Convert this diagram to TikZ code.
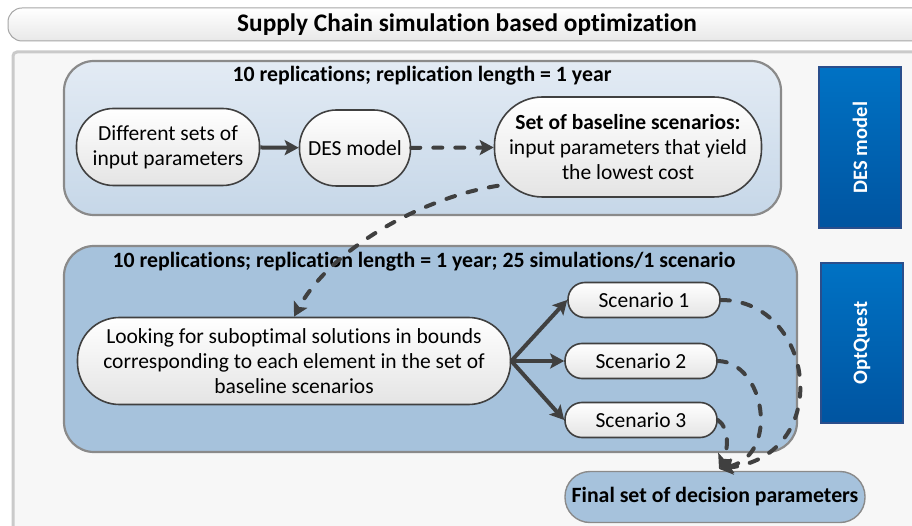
\documentclass[tikz,border=0pt]{standalone}
\usepackage{fontspec}
\setmainfont{Carlito}[Ligatures=NoCommon]
\usetikzlibrary{arrows.meta,calc}

\definecolor{panelbg}{HTML}{F7F7F7}
\definecolor{panelrim}{HTML}{CACACA}
\definecolor{grouprim}{HTML}{8A8A8A}
\definecolor{grouptop}{HTML}{E3EBF4}
\definecolor{groupbot}{HTML}{C6D7E8}
\definecolor{groupblue}{HTML}{A6C2DC}
\definecolor{arrowgray}{HTML}{404040}
\definecolor{sidetop}{HTML}{0072C4}
\definecolor{sidebot}{HTML}{0054A0}
\definecolor{siderim}{HTML}{2A4E8C}
\definecolor{pillbot}{HTML}{E4E4E4}

\tikzset{
  txt/.style={font=\fontsize{21.5}{25}\selectfont},
  pill/.style={rectangle, draw=arrowgray, line width=1.6pt,
    top color=white, bottom color=pillbot, align=center, inner xsep=0pt, inner ysep=1pt, txt},
  groupbox/.style={draw=grouprim, line width=2.2pt, rounded corners=30pt},
  grouptitle/.style={font=\fontsize{21.8}{25}\selectfont\bfseries},
  sidebox/.style={draw=siderim, line width=1.8pt, top color=sidetop, bottom color=sidebot,
    minimum width=82pt},
  sidetext/.style={rotate=90, text=white, font=\fontsize{20.5}{24}\selectfont\bfseries},
  flow/.style={draw=arrowgray, line width=4pt,
    -{Stealth[length=14pt,width=15pt,inset=3pt]}},
  dflow/.style={flow, line cap=round, dash pattern=on 9pt off 13pt},
}

\begin{document}
\begin{tikzpicture}[x=1pt,y=-1pt]
\useasboundingbox (0,0) rectangle (912,526);
\clip (0,0) rectangle (912,526);
\fill[white] (0,0) rectangle (912,526);

% heading bar
\draw[draw=gray!70, line width=1pt, top color=white, bottom color=gray!18, rounded corners=14pt]
  (8,8) rectangle (930,41);
\node[font=\fontsize{25.3}{28}\selectfont\bfseries] (head) at (467,25) {Supply Chain simulation based optimization};

% working panel
\draw[fill=panelbg, draw=panelrim, line width=3pt, rounded corners=4pt] (13,52) rectangle (940,545);

% upper group: DES model
\draw[groupbox, top color=grouptop, bottom color=groupbot] (64,61) rectangle (781,215);
\node[grouptitle] (t1) at (422,76) {10 replications; replication length = 1 year};

\node[pill, rounded corners=37pt, minimum width=183pt, minimum height=77pt] (inp) at (168,147)
  {Different sets of\\input parameters};
\node[pill, rounded corners=37pt, minimum width=111pt, minimum height=76pt] (des) at (355,148) {DES model};
\node[pill, rounded corners=48pt, minimum width=267pt, minimum height=100pt] (base) at (628,147)
  {\textbf{Set of baseline scenarios:}\\input parameters that yield\\the lowest cost};

\draw[flow] (inp) -- (des);
\draw[dflow] (des) -- (base);

% lower group: OptQuest
\draw[groupbox, fill=groupblue] (64,246) rectangle (797,452);
\node[grouptitle] (t2) at (424,262)
  {10 replications; replication length = 1 year; 25 simulations/1 scenario};

\node[pill, rounded corners=42pt, minimum width=433pt, minimum height=87pt] (look) at (294,361)
  {Looking for suboptimal solutions in bounds\\corresponding to each element in the set of\\baseline scenarios};
\node[pill, rounded corners=17pt, minimum width=152pt, minimum height=35pt] (s1) at (644,300) {Scenario 1};
\node[pill, rounded corners=17pt, minimum width=152pt, minimum height=35pt] (s2) at (641,361) {Scenario 2};
\node[pill, rounded corners=17pt, minimum width=152pt, minimum height=35pt] (s3) at (641,420) {Scenario 3};

\node[rectangle, rounded corners=25pt, draw=grouprim, line width=1.4pt, fill=groupblue,
  inner xsep=0pt, minimum width=300pt, minimum height=51pt,
  font=\fontsize{21.8}{25}\selectfont\bfseries]
  (fin) at (715,497) {Final set of decision parameters};

\draw[flow] (look.east) -- (s1.west);
\draw[flow] (look.east) -- (s2.west);
\draw[flow] (look.east) -- (s3.west);

\draw[dflow] ($(base.south west)+(4,-12)$) .. controls (420,198) and (330,250) .. (look.north);

\draw[dflow] (s1.east) .. controls (815,300) and (835,455) .. ($(fin.north)+(4,-2)$);
\draw[dflow] (s2.east) .. controls (765,362) and (780,455) .. ($(fin.north)+(4,-2)$);
\draw[dflow] (s3.east) .. controls (730,428) and (728,450) .. ($(fin.north)+(4,-2)$);

% side labels
\node[sidebox, minimum height=161pt] (lab1) at (860,147.5) {};
\node[sidetext] (lab1t) at (lab1) {DES model};
\node[sidebox, minimum height=160pt] (lab2) at (862,343) {};
\node[sidetext] (lab2t) at (lab2) {OptQuest};
\end{tikzpicture}
\end{document}
